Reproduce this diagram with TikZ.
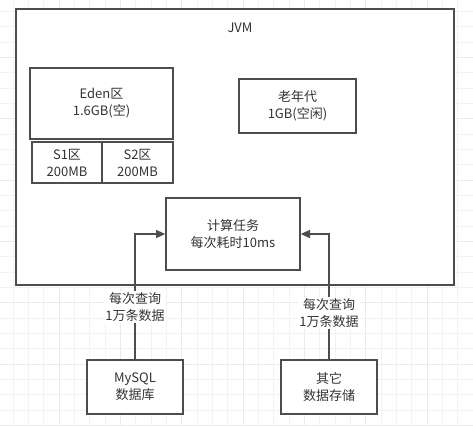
\documentclass[tikz,border=0pt]{standalone}
\usepackage{fontspec}
\setmainfont{Noto Sans CJK SC}
\usetikzlibrary{arrows.meta}
\definecolor{linegray}{HTML}{4D4D4D}
\definecolor{textgray}{HTML}{333333}
\definecolor{gridminor}{HTML}{F2F2F2}
\definecolor{gridmajor}{HTML}{EAEAEA}
\tikzset{
  box/.style={draw=linegray,line width=1pt,fill=white,text=textgray,align=center,inner sep=0pt},
  flow/.style={draw=linegray,line width=1pt,-{Triangle[length=7pt,width=6pt]}},
  tag/.style={fill=white,text=textgray,align=center,inner sep=1pt}
}
\begin{document}
\begin{tikzpicture}[x=0.75pt,y=-0.75pt,font=\fontsize{9.75pt}{12.75pt}\selectfont]
  \useasboundingbox (0,0) rectangle (473,425);
  \fill[white] (0,0) rectangle (473,425);
  % background grid
  \foreach \i in {0,...,31} {
    \pgfmathtruncatemacro{\m}{mod(\i,4)}
    \ifnum\m=0 \def\gc{gridmajor}\else\def\gc{gridminor}\fi
    \draw[\gc,line width=0.75pt] ({-2.2+\i*15.33},0) -- ++(0,425);
    \draw[\gc,line width=0.75pt] (0,{-3.9+\i*15.33}) -- ++(473,0);
  }
  % jvm
  \node[box,minimum width=328.5pt,minimum height=207pt] (jvm) at (235,147) {};
  \node[text=textgray] (jvmlabel) at (240,28) {JVM};
  \node[box,minimum width=107.25pt,minimum height=53.25pt] (eden) at (101.5,103.5) {Eden区\\1.6GB(空)};
  \node[box,minimum width=52.5pt,minimum height=30.75pt] (sone) at (67,162.5) {S1区\\200MB};
  \node[box,minimum width=53.25pt,minimum height=30.75pt] (stwo) at (137.5,162.5) {S2区\\200MB};
  \node[box,minimum width=87.75pt,minimum height=40.5pt] (old) at (297.5,106) {老年代\\1GB(空闲)};
  \node[box,minimum width=100.5pt,minimum height=54pt] (task) at (233,234) {计算任务\\每次耗时10ms};
  % data sources
  \node[box,minimum width=72pt,minimum height=40.5pt] (mysql) at (135,387) {MySQL\\数据库};
  \node[box,minimum width=72pt,minimum height=40.5pt] (other) at (329,387) {其它\\数据存储};
  \draw[flow] (mysql) |- (task);
  \draw[flow] (other) |- (task);
  \node[tag] (qleft) at (135,307) {每次查询\\1万条数据};
  \node[tag] (qright) at (329,313) {每次查询\\1万条数据};
\end{tikzpicture}
\end{document}
